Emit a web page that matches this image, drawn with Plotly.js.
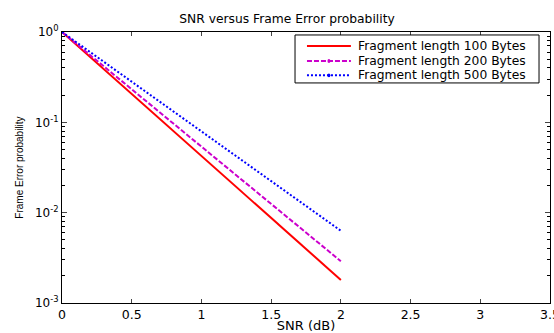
<!DOCTYPE html>
<html><head><meta charset="utf-8">
<script src="https://cdn.plot.ly/plotly-3.0.1.min.js"></script>
<style>html,body{margin:0;padding:0;background:#fff;}#c{width:554px;height:333px;}</style>
</head><body><div id="c"></div>
<script>
var snr = [0, 0.5, 1, 1.5, 2];
var fep100 = [1, 0.206, 0.0427, 0.0088, 0.0018];
var fep200 = [1, 0.233, 0.0543, 0.0126, 0.0029];
var fep500 = [1, 0.282, 0.0794, 0.0224, 0.0063];
var names = ['Fragment length 100 Bytes', 'Fragment length 200 Bytes', 'Fragment length 500 Bytes'];
var colors = ['#ff0000', '#cc00cc', '#0000ff'];
var dashes = ['solid', '5px,2px', '2px,2px'];
var yTickVals = [1, 0.1, 0.01, 0.001];
var yTickText = ['10<sup>0</sup>', '10<sup>-1</sup>', '10<sup>-2</sup>', '10<sup>-3</sup>'];
var xTickVals = [0, 0.5, 1, 1.5, 2, 2.5, 3, 3.5];
var xTickText = ['0', '0.5', '1', '1.5', '2', '2.5', '3', '3.5'];

var minorVals = [];
[0.001, 0.01, 0.1].forEach(function(d){ for (var k = 2; k <= 9; k++) minorVals.push(d * k); });

var series = [fep100, fep200, fep500];
var traces = series.map(function(s, i){
  return {x: snr, y: s, name: names[i], mode: 'lines', line: {color: colors[i], width: 2, dash: dashes[i]}};
});

// custom compact legend (MATLAB style)
var rowY = [0.948, 0.893, 0.840];
var shapes = [{type: 'rect', xref: 'paper', yref: 'paper', x0: 0.4775, x1: 0.9775, y0: 0.812, y1: 0.989,
               line: {color: '#000', width: 1}, fillcolor: '#fff', layer: 'above'}];
var annotations = [];
names.forEach(function(n, i){
  shapes.push({type: 'line', xref: 'paper', yref: 'paper', x0: 0.502, x1: 0.592, y0: rowY[i], y1: rowY[i],
               line: {color: colors[i], width: 2, dash: dashes[i]}, layer: 'above'});
  if (i > 0) {
    shapes.push({type: 'circle', xref: 'paper', yref: 'paper', x0: 0.544, x1: 0.550,
                 y0: rowY[i] - 0.007, y1: rowY[i] + 0.007, fillcolor: colors[i], line: {width: 0}, layer: 'above'});
  }
  annotations.push({xref: 'paper', yref: 'paper', x: 0.6025, y: rowY[i], xanchor: 'left', yanchor: 'middle',
                    text: n, showarrow: false, font: {family: 'DejaVu Sans', size: 12.3, color: '#000'}});
});

var layout = {
  width: 554, height: 333,
  margin: {l: 62, r: 4, t: 32, b: 30},
  paper_bgcolor: '#fff', plot_bgcolor: '#fff',
  font: {family: 'DejaVu Sans, sans-serif', size: 12, color: '#000'},
  title: {text: 'SNR versus Frame Error probability', x: 0.518, xanchor: 'center', y: 0.943, yanchor: 'middle',
          font: {family: 'DejaVu Sans', size: 12.3}},
  showlegend: false,
  shapes: shapes,
  annotations: annotations,
  xaxis: {range: [0, 3.5], tickvals: xTickVals, ticktext: xTickText, ticklabeloverflow: 'allow',
          ticks: 'inside', ticklen: 4, mirror: 'ticks', showline: true, linecolor: '#000', linewidth: 1,
          showgrid: false, zeroline: false, tickfont: {family: 'DejaVu Sans', size: 12.5},
          title: {text: 'SNR (dB)', font: {family: 'DejaVu Sans', size: 13}, standoff: 1}},
  yaxis: {type: 'log', range: [-3, 0], tickvals: yTickVals, ticktext: yTickText, ticklabeloverflow: 'allow',
          ticks: 'inside', ticklen: 5, mirror: 'ticks', showline: true, linecolor: '#000', linewidth: 1,
          showgrid: false, zeroline: false, tickfont: {family: 'DejaVu Sans', size: 12},
          minor: {tickvals: minorVals, ticks: 'inside', ticklen: 3, tickcolor: '#000', showgrid: false},
          title: {text: 'Frame Error probability', font: {family: 'Liberation Sans', size: 10}, standoff: 9}}
};
Plotly.newPlot('c', traces, layout, {displayModeBar: false, staticPlot: true});
</script></body></html>
